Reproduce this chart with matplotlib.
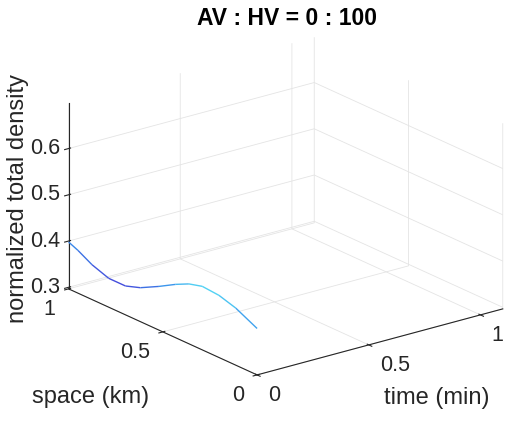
import numpy as np
import matplotlib
matplotlib.use("Agg")
import matplotlib.pyplot as plt
from matplotlib.colors import LinearSegmentedColormap, Normalize
from mpl_toolkits.mplot3d import proj3d
from mpl_toolkits.mplot3d.art3d import Line3DCollection

plt.rcParams.update({
    'font.family': ['Liberation Sans', 'DejaVu Sans'],
    'grid.color': '#e4e4e4',
    'grid.linewidth': 0.6,
})

# density profile along space (at time = 0)
space = [1.0, 0.95, 0.876, 0.787, 0.698, 0.619, 0.521, 0.432, 0.362,
         0.291, 0.202, 0.113, 0.0]
density = [0.398, 0.389, 0.372, 0.359, 0.359, 0.370, 0.391, 0.412, 0.426,
           0.434, 0.431, 0.420, 0.397]
time0 = 0.0

time_ticks = [0, 0.5, 1]
time_labels = ['0', '0.5', '1']
space_ticks = [0, 0.5, 1]
space_labels = ['0', '0.5', '1']
dens_ticks = [0.3, 0.4, 0.5, 0.6]
dens_labels = ['0.3', '0.4', '0.5', '0.6']

tmax, zmin, zmax = 1.1, 0.2966, 0.698

W, H = 510, 425
fig = plt.figure(figsize=(W / 100, H / 100), dpi=100)
ax = fig.add_axes([0.06, 0.053, 0.98, 0.90], projection='3d')
ax.set_proj_type('ortho')
ax.view_init(elev=20.5, azim=-127.5)
ax.set_box_aspect((1, 1, 0.64), zoom=1.22)

# blue -> cyan colouring by density (parula-like part)
cmap = LinearSegmentedColormap.from_list(
    'bc', [(0.27, 0.29, 0.86), (0.22, 0.55, 0.92), (0.33, 0.85, 0.96)])
norm = Normalize(vmin=0.357, vmax=0.436)

t = np.full(len(space), time0)
pts = np.column_stack([t, space, density])
segs = np.stack([pts[:-1], pts[1:]], axis=1)
mid = (np.array(density[:-1]) + np.array(density[1:])) / 2
lc = Line3DCollection(segs, colors=cmap(norm(mid)), linewidths=1.0)
lc.set_clip_on(False)
ax.add_collection3d(lc)

ax.set_xlim(0, tmax)
ax.set_ylim(0, 1)
ax.set_zlim(zmin, zmax)
ax.set_xticks(time_ticks)
ax.set_yticks(space_ticks)
ax.set_zticks(dens_ticks)
ax.set_xticklabels([])
ax.set_yticklabels([])
ax.set_zticklabels([])

for a in (ax.xaxis, ax.yaxis, ax.zaxis):
    a.set_pane_color((1, 1, 1, 0))
    a.pane.set_edgecolor((1, 1, 1, 0))
    a.line.set_color('#262626')
    a.line.set_linewidth(0.8)
    a.set_tick_params(colors='#262626')

# draw once so the projection is known, then put MATLAB-like tick labels
fig.canvas.draw()


def label_at(x, y, z, s, dx, dy, ha):
    x2, y2, _ = proj3d.proj_transform(x, y, z, ax.M)
    px, py = ax.transData.transform((x2, y2))
    fig.text((px + dx) / W, (py + dy) / H, s, ha=ha, va='center',
             fontsize=15.5, color='#262626')


for v, s in zip(dens_ticks, dens_labels):
    label_at(0, 1, v, s, -8, 0, 'right')
for v, s in zip(space_ticks, space_labels):
    label_at(0, v, zmin, s, -13, -20.5, 'right')
for v, s in zip(time_ticks, time_labels):
    label_at(v, 0, zmin, s, 11, -20.5, 'left')

fig.text(0.563, 0.957, 'AV : HV = 0 : 100', fontsize=16.5, fontweight='bold',
         ha='center', va='center')

fig.text(0.036, 0.534, 'normalized total density', rotation=90, fontsize=17,
         ha='center', va='center', color='#262626')
fig.text(0.177, 0.066, 'space (km)', fontsize=17, ha='center', va='center',
         color='#262626')
fig.text(0.857, 0.063, 'time (min)', fontsize=17, ha='center', va='center',
         color='#262626')

fig.savefig('out.png', dpi=100)
